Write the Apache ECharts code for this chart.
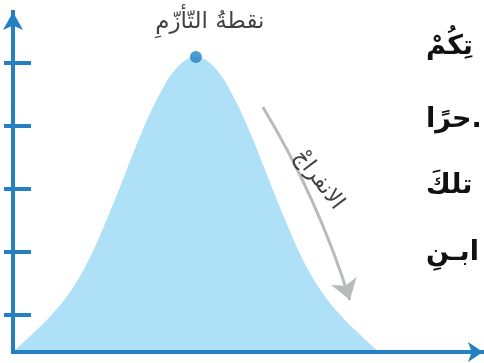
<!DOCTYPE html>
<html><head><meta charset="utf-8">
<script src="https://cdn.jsdelivr.net/npm/echarts@6/dist/echarts.min.js"></script>
<style>html,body{margin:0;padding:0;background:#fff}#c{width:484px;height:363px}</style>
</head><body><div id="c"></div>
<script>
// curve samples (x in arbitrary units, y in arbitrary intensity units)
const curveX = [0,1,2,3,4,5,6,7,8,9,10,11,12,13,14,15,16,17,18,19,20];
const curveY = [0,17,35,57,87,127,172,218,257,285,295,285,257,218,172,127,87,57,35,17,0];
const yTickValues = [37,100,163,226,289];
const peakPoint = [10,295];
const peakLabel = 'نقطةُ التّأزّمِ';
const declineArrow = [[13.66,245],[18.42,52]];
const declineLabel = 'الانفراجْ';
const declineLabelPos = [16.7,172];
const sideTexts = ['تِكُمْ','حرًا.','تلكَ','ابـنِ'];

const AX = '#2580c3';
const chart = echarts.init(document.getElementById('c'), null, {renderer:'canvas'});
const curveData = curveX.map((x,i)=>[x,curveY[i]]);
const sideTops = [33, 106, 172, 239];
chart.setOption({
  animation:false,
  grid:{left:13,right:1,top:12,bottom:11,containLabel:false},
  xAxis:{type:'value',min:0,max:25.7,z:10,
    axisLine:{show:true,symbol:['none','arrow'],symbolSize:[15,15],lineStyle:{color:AX,width:4,cap:'square'}},
    axisTick:{show:false},axisLabel:{show:false},splitLine:{show:false}},
  yAxis:[
    {type:'value',min:0,max:340,position:'left',z:10,
     axisLine:{show:true,symbol:['none','arrow'],symbolSize:[15,18],lineStyle:{color:AX,width:4,cap:'square'}},
     axisTick:{show:true,inside:true,length:18,customValues:yTickValues,lineStyle:{color:AX,width:4}},
     axisLabel:{show:false},splitLine:{show:false}},
    {type:'value',min:0,max:340,position:'left',z:10,
     axisLine:{show:false},
     axisTick:{show:true,inside:false,length:9,customValues:yTickValues,lineStyle:{color:AX,width:4}},
     axisLabel:{show:false},splitLine:{show:false}}
  ],
  series:[
    {type:'line',data:curveData,smooth:0.4,symbol:'none',
     lineStyle:{width:0,color:'#aee0f8'},areaStyle:{color:'#aee0f8',opacity:1},z:2},
    {type:'lines',coordinateSystem:'cartesian2d',
     data:[{coords:declineArrow}],
     symbol:['none','arrow'],symbolSize:[18,20],
     lineStyle:{color:'#b9babc',width:3,curveness:0.06,opacity:1},z:3},
    {type:'scatter',data:[peakPoint],symbolSize:12,itemStyle:{color:'#2181c6'},z:5,
     label:{show:true,position:'top',formatter:peakLabel,fontFamily:'DejaVu Sans',fontSize:23,color:'#111111',offset:[14,-12]}},
    {type:'scatter',data:[declineLabelPos],symbolSize:1,itemStyle:{color:'rgba(0,0,0,0)'},z:5,
     label:{show:true,position:'inside',formatter:declineLabel,rotate:-53,fontFamily:'DejaVu Sans',fontSize:22,color:'#111111'}}
  ],
  graphic: sideTexts.map((t,i)=>({type:'text',left:426,top:sideTops[i],
    style:{text:t,font:'bold 27px "DejaVu Sans"',fill:'#111111'}}))
});
</script></body></html>
